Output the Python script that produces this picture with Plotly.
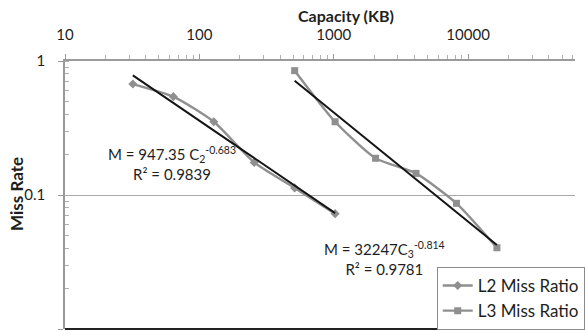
import numpy as np
import plotly.graph_objects as go

# Cache capacity (KB) and measured miss ratios
l2_capacity_kb = [32, 64, 128, 256, 512, 1024]
l2_miss_ratio = [0.673, 0.542, 0.352, 0.175, 0.113, 0.0726]

l3_capacity_kb = [512, 1024, 2048, 4096, 8192, 16384]
l3_miss_ratio = [0.847, 0.352, 0.188, 0.145, 0.0867, 0.0404]

# Power-law fits M = a * C^b, with C in bytes
l2_fit = (947.35, -0.683, 0.9839)
l3_fit = (32247.0, -0.814, 0.9781)

x_ticks = [10, 100, 1000, 10000]
y_ticks = [0.01, 0.1, 1]
y_tick_text = ["0.01", "0.1", "1"]

FONT = "Lato, 'Open Sans', sans-serif"
TXT = "#1e1e1e"
SERIES = "#8f8f8f"


def fit_curve(caps_kb, a, b):
    c = np.array([caps_kb[0], caps_kb[-1]], dtype=float)
    return c, a * (c * 1024.0) ** b


fig = go.Figure()

fig.add_trace(go.Scatter(
    x=l2_capacity_kb, y=l2_miss_ratio, name="L2 Miss Ratio",
    mode="lines+markers", line=dict(color=SERIES, width=2.4, shape="spline", smoothing=0.6),
    marker=dict(symbol="diamond", size=7, color=SERIES),
))
fig.add_trace(go.Scatter(
    x=l3_capacity_kb, y=l3_miss_ratio, name="L3 Miss Ratio",
    mode="lines+markers", line=dict(color=SERIES, width=2.4, shape="spline", smoothing=0.6),
    marker=dict(symbol="square", size=7, color=SERIES),
))

for caps, (a, b, _) in ((l2_capacity_kb, l2_fit), (l3_capacity_kb, l3_fit)):
    fx, fy = fit_curve(caps, a, b)
    fig.add_trace(go.Scatter(
        x=fx, y=fy, mode="lines", showlegend=False, hoverinfo="skip",
        line=dict(color="#141414", width=2),
    ))

PLOT_L, PLOT_T, PLOT_B = 65, 61, 2
W, H = 585, 331
PW, PH = W - PLOT_L, H - PLOT_T - PLOT_B
DECADE_X = 137.0
x_max = 1 + PW / DECADE_X


def px_x(px):
    return (px - PLOT_L) / PW


def px_y(py):
    return (H - PLOT_B - py) / PH


fig.update_layout(
    width=W, height=H,
    margin=dict(l=PLOT_L, r=0, t=PLOT_T, b=PLOT_B),
    paper_bgcolor="white", plot_bgcolor="white",
    font=dict(family=FONT, size=15, color=TXT),
    showlegend=True,
    legend=dict(
        x=px_x(444), y=px_y(267), xanchor="left", yanchor="top",
        bgcolor="white", bordercolor="#8a8a8a", borderwidth=1,
        font=dict(family=FONT, size=17, color=TXT),
        itemwidth=30, tracegroupgap=0,
    ),
    xaxis=dict(
        type="log", side="top", range=[1, x_max],
        tickvals=x_ticks, ticktext=[str(v) for v in x_ticks],
        ticks="outside", ticklen=5, tickcolor="#9a9a9a",
        showline=True, linecolor="#9a9a9a", linewidth=1.5,
        showgrid=False, zeroline=False, ticklabelstandoff=8,
        minor=dict(ticks="outside", ticklen=4, tickcolor="#b0b0b0", dtick="D1", showgrid=False),
        tickfont=dict(size=15),
    ),
    yaxis=dict(
        type="log", range=[-2, 0],
        tickvals=y_ticks, ticktext=y_tick_text,
        ticks="outside", ticklen=5, tickcolor="#9a9a9a",
        showline=True, linecolor="#9a9a9a", linewidth=1.5,
        showgrid=True, gridcolor="#a8a8a8", gridwidth=1, zeroline=False,
        ticklabelstandoff=10,
        minor=dict(ticks="inside", ticklen=4, tickcolor="#b0b0b0", dtick="D1", showgrid=False),
        tickfont=dict(size=15),
    ),
)

# Axis titles
fig.add_annotation(text="<b>Capacity (KB)</b>", xref="paper", yref="paper",
                   x=px_x(352), y=px_y(15),
                   showarrow=False, font=dict(size=16, color=TXT), xanchor="center", yanchor="middle")
fig.add_annotation(text="<b>Miss Rate</b>", xref="paper", yref="paper",
                   x=px_x(15), y=px_y(194), textangle=-90,
                   showarrow=False, font=dict(size=17, color=TXT), xanchor="center", yanchor="middle")

# Fit equations
fig.add_annotation(
    text=f"M = {l2_fit[0]:.2f} C<sub>2</sub><sup>{l2_fit[1]}</sup><br>R² = {l2_fit[2]}",
    xref="paper", yref="paper", x=px_x(174), y=px_y(163),
    xanchor="center", yanchor="middle",
    showarrow=False, align="center", font=dict(size=15, color=TXT),
)
fig.add_annotation(
    text=f"M = {l3_fit[0]:.0f}C<sub>3</sub><sup>{l3_fit[1]}</sup><br>R² = {l3_fit[2]}",
    xref="paper", yref="paper", x=px_x(391), y=px_y(258),
    xanchor="center", yanchor="middle",
    showarrow=False, align="center", font=dict(size=15, color=TXT),
)

# Dark baseline along the bottom of the plot area
fig.add_shape(type="line", xref="paper", yref="paper", x0=0, x1=1, y0=0, y1=0,
              line=dict(color="#222222", width=2))

fig.write_html("out.html")
